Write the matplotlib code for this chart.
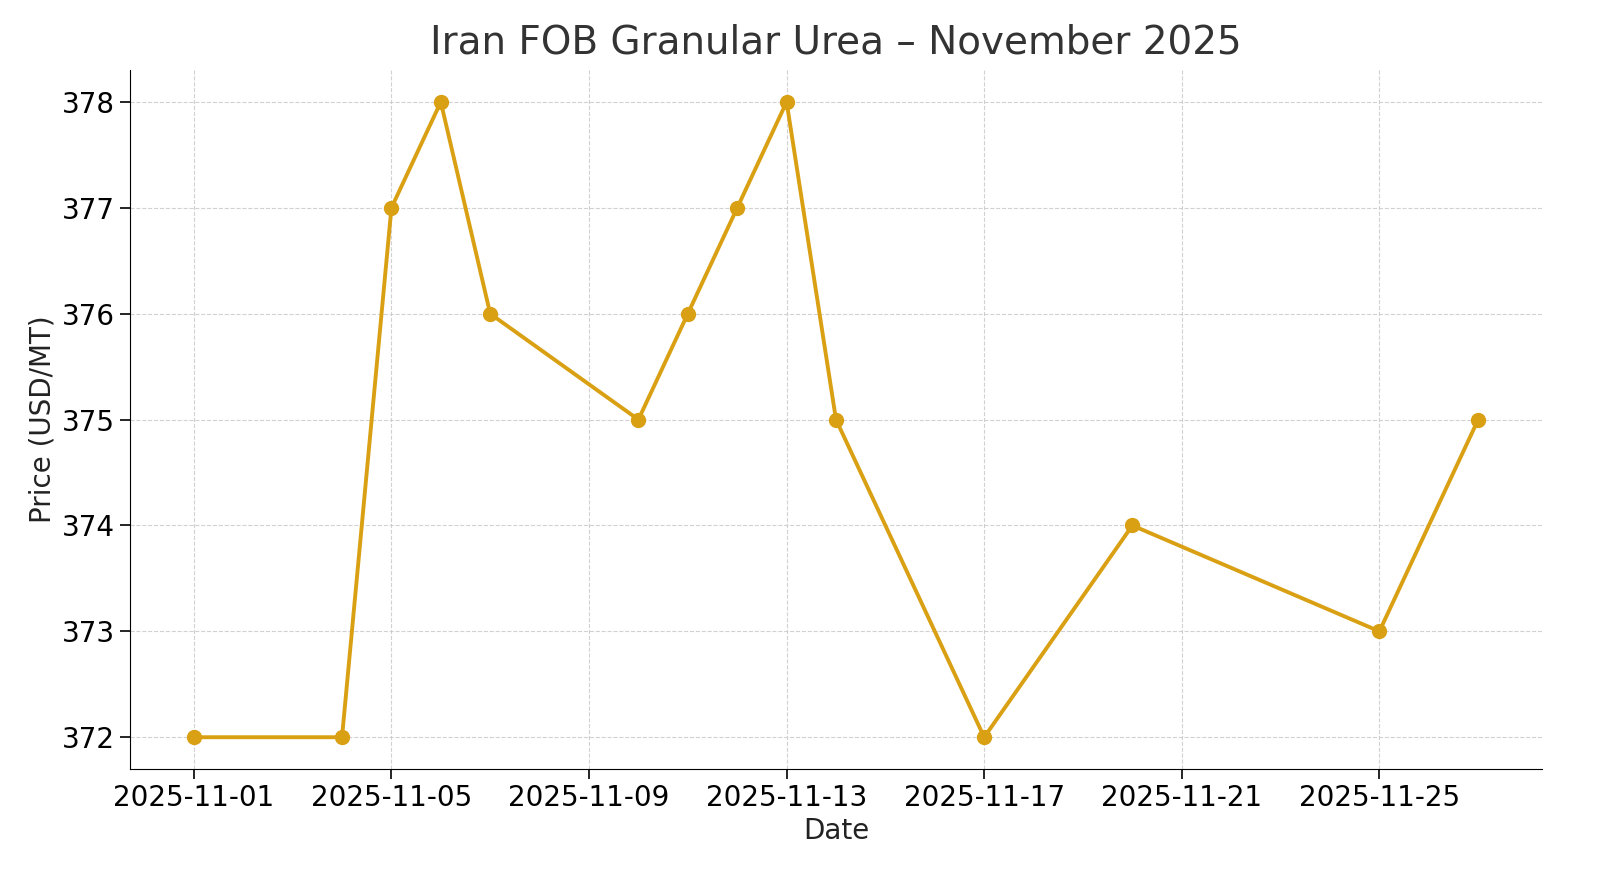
import matplotlib
matplotlib.use("Agg")
import matplotlib.pyplot as plt
import matplotlib.dates as mdates
import pandas as pd

dates = ["2025-11-01", "2025-11-04", "2025-11-05", "2025-11-06", "2025-11-07",
         "2025-11-10", "2025-11-11", "2025-11-12", "2025-11-13", "2025-11-14",
         "2025-11-17", "2025-11-20", "2025-11-25", "2025-11-27"]
prices = [372, 372, 377, 378, 376, 375, 376, 377, 378, 375, 372, 374, 373, 375]

x = pd.to_datetime(dates)

fig, ax = plt.subplots(figsize=(16, 8.89), dpi=100)
ax.plot(x, prices, marker="o", color="#DAA014", linewidth=2.8, markersize=10)

ax.set_title("Iran FOB Granular Urea – November 2025", fontsize=28, color="#333333", pad=12)
ax.set_xlabel("Date", fontsize=20, color="#222222")
ax.set_ylabel("Price (USD/MT)", fontsize=20, color="#222222")

ax.xaxis.set_major_locator(mdates.DayLocator(bymonthday=[1, 5, 9, 13, 17, 21, 25]))
ax.xaxis.set_major_formatter(mdates.DateFormatter("%Y-%m-%d"))
ax.tick_params(labelsize=20, length=7, width=1.2)

ax.grid(True, linestyle="--", color="#cccccc", alpha=0.9)
ax.spines["top"].set_visible(False)
ax.spines["right"].set_visible(False)

plt.subplots_adjust(left=0.081, right=0.964, top=0.921, bottom=0.135)
plt.savefig("out.png", dpi=100)
